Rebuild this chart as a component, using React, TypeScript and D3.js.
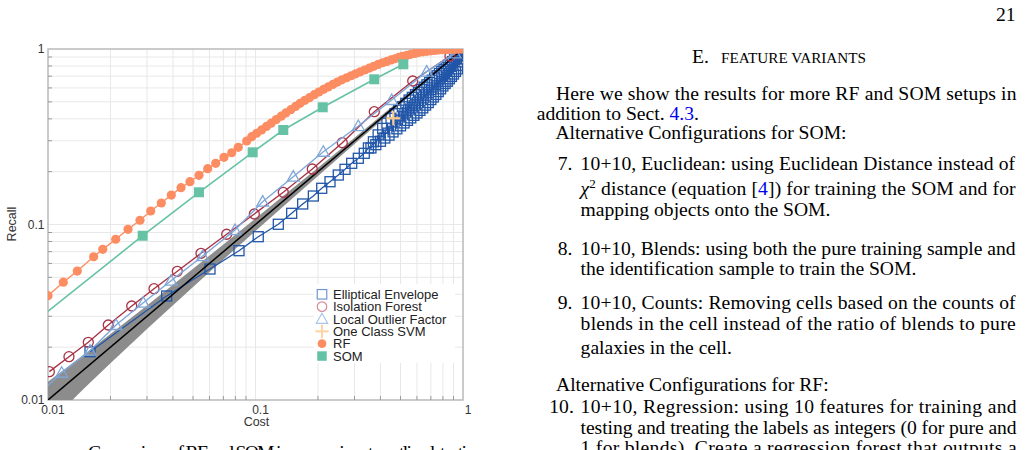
import React from "react";
import * as d3 from "d3";

// ---------- data ----------
const costTicks = [0.01, 0.1, 1];
const costTickLabels = ["0.01", "0.1", "1"];
const recallTicks = [0.01, 0.1, 1];
const recallTickLabels = ["0.01", "0.1", "1"];

// random-baseline band around the diagonal
const bandCost = [0.008, 0.01, 0.015, 0.02, 0.03, 0.05, 0.07, 0.1, 0.15, 0.2, 0.3, 0.4, 0.5, 0.7, 1];
const bandUpper = [0.0104, 0.0127, 0.0183, 0.0238, 0.0346, 0.0559, 0.0769, 0.1081, 0.1596, 0.2108, 0.3124, 0.4132, 0.5135, 0.7124, 1];
const bandLower = [0.0056, 0.0073, 0.0117, 0.0162, 0.0254, 0.0441, 0.0631, 0.0919, 0.1404, 0.1892, 0.2876, 0.3868, 0.4865, 0.6876, 1];
const diagCost = [0.008, 1];

const eeCost = [0.01594, 0.03733, 0.06035, 0.08326, 0.1031, 0.1288, 0.1494, 0.1688, 0.19, 0.2085, 0.2286, 0.2506, 0.27, 0.2908, 0.313, 0.3344,
  0.35, 0.36, 0.37, 0.38, 0.39, 0.4, 0.41, 0.42, 0.43, 0.44, 0.45, 0.46, 0.47, 0.48, 0.49, 0.5, 0.51, 0.52, 0.53, 0.54, 0.55, 0.56, 0.57, 0.58,
  0.59, 0.6, 0.61, 0.62, 0.63, 0.64, 0.65, 0.66, 0.67, 0.68, 0.69, 0.7, 0.71, 0.72, 0.73, 0.74, 0.75, 0.76, 0.77, 0.78, 0.79, 0.8, 0.81, 0.82,
  0.83, 0.84, 0.85, 0.86, 0.87, 0.88, 0.89, 0.9, 0.91, 0.92, 0.93, 0.94, 0.95, 0.96, 0.97, 0.98, 0.99, 1.0, 1.0];
const eeRecall = [0.01885, 0.03913, 0.05577, 0.07091, 0.0852, 0.1003, 0.1158, 0.1309, 0.1453, 0.1608, 0.1753, 0.1914, 0.2063, 0.2232, 0.2384, 0.2545,
  0.273, 0.273, 0.296, 0.285, 0.324, 0.298, 0.353, 0.311, 0.378, 0.323, 0.403, 0.337, 0.428, 0.351, 0.448, 0.365, 0.469, 0.379, 0.49, 0.392,
  0.512, 0.405, 0.53, 0.419, 0.549, 0.432, 0.567, 0.447, 0.587, 0.462, 0.606, 0.479, 0.625, 0.495, 0.644, 0.515, 0.664, 0.533, 0.684, 0.551,
  0.704, 0.572, 0.725, 0.593, 0.745, 0.616, 0.765, 0.636, 0.786, 0.655, 0.807, 0.677, 0.827, 0.698, 0.848, 0.72, 0.869, 0.745, 0.891, 0.771,
  0.912, 0.806, 0.936, 0.843, 0.96, 0.88, 1.0];

const ifCost = [0.01015, 0.01262, 0.01564, 0.01952, 0.02532, 0.03242, 0.04199, 0.05462, 0.07264, 0.0987, 0.1361, 0.1878, 0.262, 0.3737, 0.5723, 0.8655, 1.0];
const ifRecall = [0.0145, 0.01765, 0.02132, 0.02675, 0.03433, 0.04306, 0.05411, 0.06854, 0.088, 0.1148, 0.1526, 0.2071, 0.2925, 0.4392, 0.657, 0.912, 1.0];

const lofCost = [0.008, 0.01164, 0.01594, 0.02127, 0.02879, 0.03916, 0.05567, 0.07963, 0.1083, 0.1521, 0.2122, 0.313, 0.4533, 0.6683, 0.915, 1.0];
const lofRecall = [0.0095, 0.0143, 0.0191, 0.02675, 0.03584, 0.04784, 0.0661, 0.093, 0.1349, 0.1873, 0.2598, 0.364, 0.512, 0.743, 0.945, 1.0];

const svmCost = [0.4615];
const svmRecall = [0.4029];

const rfCost = [0.01, 0.01185, 0.01384, 0.0166, 0.01836, 0.0212, 0.0243, 0.02776, 0.03126, 0.03516, 0.03929, 0.04375, 0.04833, 0.05342, 0.05883,
  0.06431, 0.07051, 0.0768, 0.0826, 0.0907, 0.0959, 0.1013, 0.107, 0.113, 0.119, 0.126, 0.133, 0.14, 0.148, 0.156, 0.164, 0.173, 0.182, 0.192,
  0.202, 0.213, 0.224, 0.236, 0.248, 0.261, 0.275, 0.289, 0.304, 0.32, 0.336, 0.353, 0.371, 0.39, 0.41, 0.43, 0.45, 0.47, 0.49, 0.51, 0.535,
  0.56, 0.585, 0.61, 0.64, 0.67, 0.7, 0.73, 0.76, 0.79, 0.82, 0.85, 0.88, 0.91, 0.94, 0.97, 1.0];
const rfRecall = [0.0393, 0.0469, 0.0543, 0.0655, 0.0722, 0.0824, 0.0939, 0.1057, 0.1194, 0.1326, 0.1472, 0.1621, 0.1753, 0.1907, 0.208,
  0.2232, 0.2415, 0.2563, 0.2754, 0.299, 0.3167, 0.331, 0.346, 0.362, 0.378, 0.396, 0.414, 0.432, 0.451, 0.471, 0.49, 0.51, 0.528, 0.549,
  0.569, 0.589, 0.608, 0.628, 0.648, 0.667, 0.686, 0.704, 0.722, 0.741, 0.759, 0.778, 0.797, 0.817, 0.835, 0.85, 0.866, 0.88, 0.895, 0.907, 0.919,
  0.932, 0.944, 0.955, 0.964, 0.97, 0.976, 0.982, 0.987, 0.991, 0.993, 0.995, 0.996, 0.998, 0.999, 1.0, 1.0];

const somCost = [0.008, 0.0286, 0.0534, 0.0969, 0.1361, 0.2109, 0.3737, 0.5157];
const somRecall = [0.026, 0.0863, 0.1526, 0.2578, 0.3455, 0.4655, 0.672, 0.818];

const legendLabels = ["Elliptical Envelope", "Isolation Forest", "Local Outlier Factor", "One Class SVM", "RF", "SOM"];

// ---------- styles ----------
const C = {
  ee: "#2256a8",
  if: "#a83347",
  lof: "#7ea6d8",
  svm: "#fcc98a",
  rf: "#fc8d62",
  som: "#66c2a5",
};
const legendColors = ["#7194d2", "#d48c9a", "#a9c4e8", "#fcd5a6", "#fc8d62", "#66c2a5"];
const legendKinds = ["square", "circle", "triangle", "plus", "dot", "fsquare"];

const sans = "'Liberation Sans', Arial, Helvetica, sans-serif";
const serif = "'Liberation Serif', 'Times New Roman', Times, serif";

type Kind = "square" | "circle" | "triangle" | "plus" | "dot" | "fsquare";

function Marker({ kind, cx, cy, color, s = 1, sw = 1.3 }: { kind: Kind; cx: number; cy: number; color: string; s?: number; sw?: number }) {
  if (kind === "square") return <rect x={cx - 5 * s} y={cy - 5 * s} width={10 * s} height={10 * s} fill="none" stroke={color} strokeWidth={sw} />;
  if (kind === "fsquare") return <rect x={cx - 5 * s} y={cy - 5 * s} width={10 * s} height={10 * s} fill={color} stroke="none" />;
  if (kind === "circle") return <circle cx={cx} cy={cy} r={5 * s} fill="none" stroke={color} strokeWidth={sw} />;
  if (kind === "dot") return <circle cx={cx} cy={cy} r={4.6 * s} fill={color} stroke="none" />;
  if (kind === "triangle") {
    const h = 6 * s;
    return <path d={`M${cx},${cy - h} L${cx + h * 1.0},${cy + h * 0.75} L${cx - h * 1.0},${cy + h * 0.75} Z`} fill="none" stroke={color} strokeWidth={sw} />;
  }
  return (
    <g stroke={color} strokeWidth={2.2 * Math.min(s, 1)}>
      <line x1={cx - 7 * s} x2={cx + 7 * s} y1={cy} y2={cy} />
      <line x1={cx} x2={cx} y1={cy - 7 * s} y2={cy + 7 * s} />
    </g>
  );
}

export default function App() {
  const x = d3.scaleLog().domain([0.01, 1]).range([48, 463]);
  const y = d3.scaleLog().domain([0.01, 1]).range([400, 49]);
  const zip = (a: number[], b: number[]) => a.map((v, i) => [v, b[i]] as [number, number]);
  const line = d3.line<[number, number]>().x((d) => x(d[0])).y((d) => y(d[1]));
  const area = d3
    .area<number>()
    .x((d) => x(d))
    .y0((_d, i) => y(bandLower[i]))
    .y1((_d, i) => y(bandUpper[i]));
  const gridVals = x.ticks();
  const minor = gridVals.filter((v) => !costTicks.includes(v));

  type S = { c: number[]; r: number[]; color: string; kind: Kind; lw: number; markLast: boolean };
  const series: S[] = [{ c: eeCost, r: eeRecall, color: C.ee, kind: "square", lw: 1.3, markLast: true }];
  const series2: S[] = [
    { c: ifCost, r: ifRecall, color: C.if, kind: "circle", lw: 1.4, markLast: false },
    { c: lofCost, r: lofRecall, color: C.lof, kind: "triangle", lw: 1.4, markLast: false },
    { c: svmCost, r: svmRecall, color: C.svm, kind: "plus", lw: 1.4, markLast: true },
    { c: rfCost, r: rfRecall, color: C.rf, kind: "dot", lw: 1.4, markLast: true },
    { c: somCost, r: somRecall, color: C.som, kind: "fsquare", lw: 1.6, markLast: true },
  ];

  const drawSeries = (s: S, k: number) => {
    const pts = zip(s.c, s.r);
    const mpts = s.markLast ? pts : pts.slice(0, -1);
    return (
      <g key={k}>
        {pts.length > 1 && <path d={line(pts) || ""} fill="none" stroke={s.color} strokeWidth={s.lw} />}
        {mpts.map((p, i) => (
          <Marker key={i} kind={s.kind} cx={x(p[0])} cy={y(p[1])} color={s.color} />
        ))}
      </g>
    );
  };

  const legX = 322;
  const legY0 = 294.3;
  const legDy = 12.35;

  const tl = (t: string, xx: number, yy: number, len?: number) => (
    <text x={xx} y={yy} textLength={len} lengthAdjust={len ? "spacing" : undefined}>
      {t}
    </text>
  );

  return (
    <svg width={1033} height={450} style={{ position: "absolute", left: 0, top: 0, background: "#fff" }}>
      <defs>
        <clipPath id="plotclip">
          <rect x={48} y={49} width={415} height={351} />
        </clipPath>
      </defs>
      <rect x={0} y={0} width={1033} height={450} fill="#fff" />

      {/* grid */}
      <g stroke="#e8e8e8" strokeWidth={1}>
        {gridVals.map((v, i) => (
          <line key={"gx" + i} x1={x(v)} x2={x(v)} y1={49} y2={400} />
        ))}
        {gridVals.map((v, i) => (
          <line key={"gy" + i} x1={48} x2={463} y1={y(v)} y2={y(v)} />
        ))}
      </g>

      {/* frame */}
      <rect x={48} y={49} width={415} height={351} fill="none" stroke="#bdbdbd" strokeWidth={1.5} />
      <g stroke="#9a9a9a" strokeWidth={1}>
        {minor.map((v, i) => (
          <line key={"tx" + i} x1={x(v)} x2={x(v)} y1={400} y2={396} />
        ))}
        {minor.map((v, i) => (
          <line key={"ty" + i} x1={48} x2={52} y1={y(v)} y2={y(v)} />
        ))}
      </g>

      <g clipPath="url(#plotclip)">
        <path d={area(bandCost) || ""} fill="#8c8c8c" />
        {series.map(drawSeries)}
        <path d={line(zip(diagCost, diagCost)) || ""} stroke="#000" strokeWidth={1.5} fill="none" />
        {series2.map((s, k) => drawSeries(s, k + 10))}
      </g>

      {/* legend */}
      <rect x={314} y={284} width={141} height={79} fill="#fff" />
      {legendLabels.map((lab, i) => (
        <g key={lab}>
          <Marker kind={legendKinds[i] as Kind} cx={legX} cy={legY0 + i * legDy} color={legendColors[i]} s={0.95} sw={1.2} />
          <text x={333} y={legY0 + i * legDy + 4.6} fontFamily={sans} fontSize={13} fill="#222">
            {lab}
          </text>
        </g>
      ))}

      {/* axes labels */}
      <g fontFamily={sans} fontSize={12} fill="#333">
        {recallTicks.map((v, i) => (
          <text key={"yl" + i} x={44.5} y={y(v) + 4.2} textAnchor="end">
            {recallTickLabels[i]}
          </text>
        ))}
        {costTicks.map((v, i) => (
          <text key={"xl" + i} x={x(v) + 5} y={413.5} textAnchor="middle">
            {costTickLabels[i]}
          </text>
        ))}
        <text x={256.5} y={426} textAnchor="middle" fontSize={12.5}>
          Cost
        </text>
        <text transform="translate(16,224) rotate(-90)" textAnchor="middle" fontSize={12.5}>
          Recall
        </text>
      </g>

      {/* caption (cut off) */}
      <g fontFamily={serif} fontSize={19.6} fill="#000">
        {tl("Comparison of RF and SOM in comparison to outlier detection", 88, 459, 395)}
      </g>

      {/* right column text */}
      <g fontFamily={serif} fontSize={19.6} fill="#000">
        <text x={1015.5} y={20.5} textAnchor="end">21</text>
        <text x={692} y={63}>E.</text>
        <text x={721} y={63} fontSize={15.2}>FEATURE VARIANTS</text>

        {tl("Here we show the results for more RF and SOM setups in", 556, 100, 460.5)}
        <text x={536.7} y={119.5}>
          addition to Sect. <tspan fill="#0000ee">4.3</tspan>.
        </text>
        {tl("Alternative Configurations for SOM:", 555.4, 138.5)}

        {tl("7.", 557.8, 170)}
        {tl("10+10, Euclidean: using Euclidean Distance instead of", 580.6, 170, 434.5)}
        <text x={580.6} y={195} textLength={435} lengthAdjust="spacing">
          <tspan fontStyle="italic">χ</tspan>
          <tspan dy={-7} fontSize={13}>2</tspan>
          <tspan dy={7}> distance (equation [</tspan>
          <tspan fill="#0000ee">4</tspan>
          <tspan>]) for training the SOM and for</tspan>
        </text>
        {tl("mapping objects onto the SOM.", 580.6, 215.5)}

        {tl("8.", 557.8, 254.7)}
        {tl("10+10, Blends: using both the pure training sample and", 580.6, 254.7, 435)}
        {tl("the identification sample to train the SOM.", 580.6, 275)}

        {tl("9.", 557.8, 308.5)}
        {tl("10+10, Counts: Removing cells based on the counts of", 580.6, 308.5, 435)}
        {tl("blends in the cell instead of the ratio of blends to pure", 580.6, 330, 435)}
        {tl("galaxies in the cell.", 580.6, 353.7)}

        {tl("Alternative Configurations for RF:", 556, 391)}
        {tl("10.", 549.3, 412.5)}
        {tl("10+10, Regression: using 10 features for training and", 580.6, 412.5, 436)}
        {tl("testing and treating the labels as integers (0 for pure and", 580.6, 433.5, 436)}
        {tl("1 for blends). Create a regression forest that outputs a", 580.6, 454, 436)}
      </g>
    </svg>
  );
}
